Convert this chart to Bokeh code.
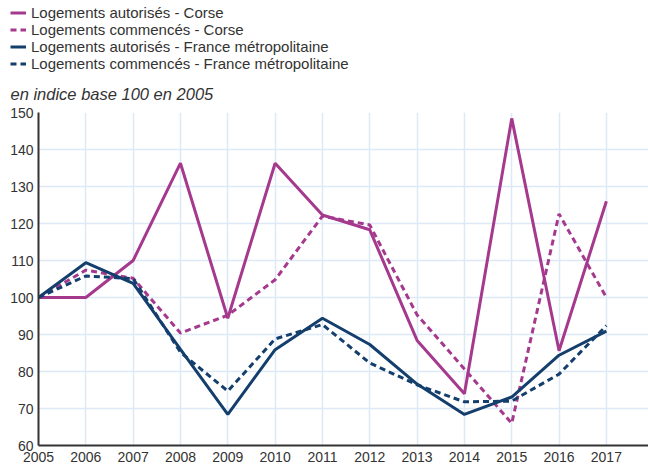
from bokeh.plotting import figure
from bokeh.layouts import column
from bokeh.models import Legend, LegendItem, Title, FixedTicker, Range1d
from bokeh.embed import file_html
from bokeh.resources import INLINE

years = list(range(2005, 2018))
aut_corse = [100, 100, 110, 136.3, 94.4, 136.3, 122.3, 118.3, 88.4, 74, 148.4, 85.6, 126]
com_corse = [100, 107.4, 105.2, 90.4, 95.2, 104.8, 122, 119.6, 95.3, 80.7, 66, 122.6, 100]
aut_fr = [100, 109.4, 103.8, 86, 68.4, 85.9, 94.4, 87.3, 76.6, 68.4, 73.1, 84.4, 90.9]
com_fr = [100, 105.8, 105.1, 85.2, 74.7, 88.8, 92.7, 82.3, 76.4, 71.8, 72, 79.3, 92.4]

labels = [
    "Logements autorisés - Corse",
    "Logements commencés - Corse",
    "Logements autorisés - France métropolitaine",
    "Logements commencés - France métropolitaine",
]
subtitle = "en indice base 100 en 2005"

MAG = "#a5398d"
NAVY = "#143f6c"
FONT = "Liberation Sans"
series = [(aut_corse, MAG, None), (com_corse, MAG, "6 4"), (aut_fr, NAVY, None), (com_fr, NAVY, "6 4")]


def draw(fig):
    rs = []
    for vals, col, dash in series:
        kw = dict(line_color=col, line_width=3)
        if dash:
            kw["line_dash"] = dash
        rs.append(fig.line(years, vals, **kw))
    return rs


# legend strip (lines lie outside its ranges; only the legend shows)
LH = 72
lg = figure(width=648, height=LH, output_backend="svg", toolbar_location=None,
            x_axis_type=None, y_axis_type=None,
            x_range=Range1d(0, 1), y_range=Range1d(0, 1),
            min_border=0)
lg.outline_line_color = None
lg.frame_align = False
lrs = draw(lg)
legend = Legend(items=[LegendItem(label=l, renderers=[r]) for l, r in zip(labels, lrs)],
                location=(10, 0), orientation="vertical",
                label_text_font=FONT, label_text_font_size="15px", label_text_color="#333333",
                glyph_width=16, glyph_height=15, label_height=15, label_standoff=5,
                spacing=0, padding=0, margin=0, border_line_color=None,
                background_fill_alpha=0)
lg.add_layout(legend)

# main chart
p = figure(frame_width=610, frame_height=333, output_backend="svg", toolbar_location=None,
           x_range=Range1d(2005, 2017.89), y_range=Range1d(60, 150),
           min_border_left=38, min_border_right=0, min_border_top=38, min_border_bottom=0)
p.outline_line_color = None
p.background_fill_color = "white"
draw(p)

p.xaxis.ticker = FixedTicker(ticks=years)
p.yaxis.ticker = FixedTicker(ticks=list(range(60, 151, 10)))
for ax in (p.xaxis, p.yaxis):
    ax.axis_line_color = "#333333"
    ax.axis_line_width = 2
    ax.major_tick_line_color = None
    ax.minor_tick_line_color = None
    ax.major_tick_out = 0
    ax.major_tick_in = 0
    ax.major_label_text_font = FONT
    ax.major_label_text_font_size = "14px"
    ax.major_label_text_color = "#333333"
p.xaxis.major_label_standoff = 6
p.yaxis.major_label_standoff = 5

p.xgrid.ticker = FixedTicker(ticks=years)
p.ygrid.ticker = FixedTicker(ticks=list(range(60, 151, 10)))
p.grid.grid_line_color = "#dde9f6"
p.grid.grid_line_width = 1.5

sub = Title(text=subtitle, text_font=FONT, text_font_size="16.5px", text_font_style="italic",
            text_color="#333333", align="left", offset=-28, standoff=20)
p.add_layout(sub, "above")

layout = column(lg, p, spacing=0)
open("out.html", "w").write(file_html(layout, INLINE))
